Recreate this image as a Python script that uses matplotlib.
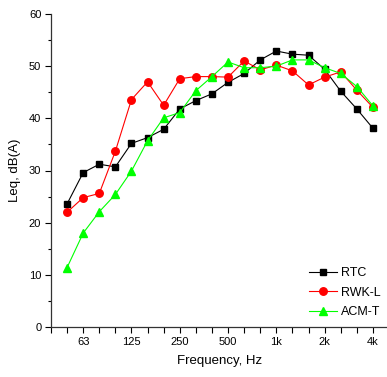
import matplotlib
matplotlib.use("Agg")
from matplotlib import pyplot as plt
from matplotlib.ticker import MultipleLocator

plt.rcParams['font.family'] = ['Liberation Sans', 'DejaVu Sans']

bands = ['50', '63', '80', '100', '125', '160', '200', '250', '315', '400', '500',
         '630', '800', '1k', '1.25k', '1.6k', '2k', '2.5k', '3.15k', '4k']
tick_labels = ['63', '125', '250', '500', '1k', '2k', '4k']

rtc = [23.6, 29.6, 31.2, 30.7, 35.2, 36.3, 37.9, 41.8, 43.4, 44.7, 46.9,
       48.6, 51.2, 52.9, 52.3, 52.1, 49.4, 45.2, 41.8, 38.1]
rwk_l = [22.0, 24.8, 25.6, 33.7, 43.6, 47.0, 42.5, 47.6, 48.0, 48.0, 47.9,
         51.0, 49.3, 50.2, 49.1, 46.4, 47.9, 48.9, 45.4, 42.1]
acm_t = [11.4, 18.0, 22.1, 25.4, 29.9, 35.7, 40.1, 41.1, 45.3, 48.0, 50.8,
         49.7, 49.7, 50.0, 51.2, 51.2, 49.7, 48.6, 46.1, 42.4]

x = list(range(len(bands)))

fig = plt.figure(figsize=(3.87, 3.77), dpi=100)
ax = fig.add_axes([51/387, 50/377, 338/387, 313/377])

ax.plot(x, rtc, c='black', lw=0.8, marker='s', ms=4.8, label='RTC')
ax.plot(x, rwk_l, c='#ff0000', lw=0.8, marker='o', ms=5.4, label='RWK-L')
ax.plot(x, acm_t, c='#00ff00', lw=0.8, marker='^', ms=6, label='ACM-T')

ax.set_xlim(-1, 20)
ax.set_ylim(0, 60)
ax.set_xticks(range(-1, 21), minor=True)
ax.set_xticks([bands.index(t) for t in tick_labels])
ax.set_xticklabels(tick_labels)
ax.yaxis.set_major_locator(MultipleLocator(10))
ax.yaxis.set_minor_locator(MultipleLocator(5))

for s in ['top', 'right']:
    ax.spines[s].set_visible(False)
for s in ['left', 'bottom']:
    ax.spines[s].set_linewidth(0.9)
    ax.spines[s].set_color('#333333')

ax.tick_params(axis='both', which='major', direction='out', length=4, width=0.8, labelsize=8, pad=3)
ax.tick_params(axis='x', which='minor', direction='out', length=4, width=0.8)
ax.tick_params(axis='y', which='minor', direction='out', length=2.5, width=0.8)

ax.set_xlabel('Frequency, Hz', fontsize=9.5, labelpad=6)
ax.set_ylabel('Leq, dB(A)', fontsize=9.5, labelpad=6)

ax.legend(loc='lower right', bbox_to_anchor=(1.0, 0.0), frameon=False, fontsize=9,
          handlelength=2.2, handletextpad=0.3, labelspacing=0.6, borderaxespad=0.3)

fig.savefig('out.png', dpi=100)
